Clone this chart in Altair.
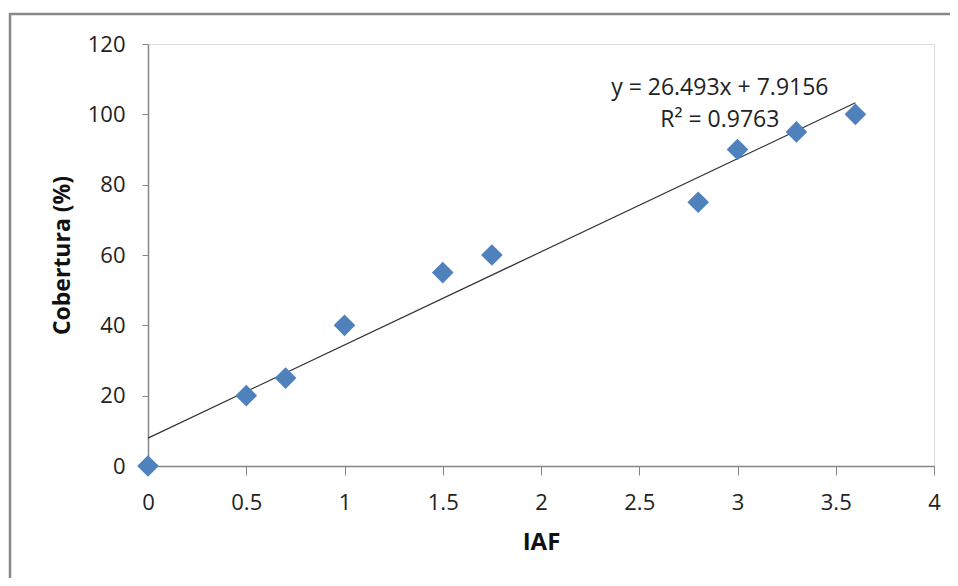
import altair as alt
import pandas as pd

iaf = [0, 0.5, 0.7, 1.0, 1.5, 1.75, 2.8, 3.0, 3.3, 3.6]
cobertura = [0, 20, 25, 40, 55, 60, 75, 90, 95, 100]

eq_text = ["y = 26.493x + 7.9156", "R² = 0.9763"]
eq_x = [2.91, 2.91]
eq_y = [107.5, 98.4]

df = pd.DataFrame({"IAF": iaf, "Cobertura": cobertura})
df_eq = pd.DataFrame({"t": eq_text, "x": eq_x, "y": eq_y})

W, H = 786, 422
FONT = "Open Sans"
GRAY = "#868686"

xscale = alt.Scale(domain=[0, 4], nice=False, zero=True)
yscale = alt.Scale(domain=[0, 120], nice=False)

xaxis = alt.Axis(values=[0, 0.5, 1, 1.5, 2, 2.5, 3, 3.5, 4], format="~g", grid=False,
                 domainColor=GRAY, tickColor=GRAY, tickSize=9, domainWidth=1.5,
                 labelFont=FONT, labelFontSize=22, labelColor="#222", labelPadding=17,
                 labelFlush=False, labelOverlap=False,
                 title="IAF", titleFont=FONT, titleFontSize=24, titleFontWeight="bold",
                 titleColor="#111", titleX=W / 2, titleY=76, titleBaseline="middle",
                 titleAlign="center")
yaxis = alt.Axis(values=[0, 20, 40, 60, 80, 100, 120], grid=False,
                 domainColor=GRAY, tickColor=GRAY, tickSize=6, domainWidth=1.5,
                 labelFont=FONT, labelFontSize=22, labelColor="#222", labelPadding=17,
                 labelFlush=False, labelOverlap=False,
                 title="Cobertura (%)", titleFont=FONT, titleFontSize=23,
                 titleFontWeight="bold", titleColor="#111", titleX=-86, titleY=H / 2,
                 titleAngle=-90, titleBaseline="middle", titleAlign="center")

base = alt.Chart(df)

border = alt.Chart(pd.DataFrame({"a": [0]})).mark_rect(
    fill=None, stroke="#888888", strokeWidth=2.5
).encode(x=alt.value(-138), x2=alt.value(W + 200), y=alt.value(-30), y2=alt.value(H + 250))

trend = base.transform_regression("IAF", "Cobertura", extent=[0, 3.6]).mark_line(
    color="#333333", strokeWidth=1.2
).encode(x=alt.X("IAF:Q", scale=xscale, axis=xaxis),
         y=alt.Y("Cobertura:Q", scale=yscale, axis=yaxis))

points = base.mark_point(shape="diamond", filled=True, size=470, color="#4F81BD",
                         opacity=1).encode(
    x=alt.X("IAF:Q", scale=xscale, axis=xaxis),
    y=alt.Y("Cobertura:Q", scale=yscale, axis=yaxis))

eq = alt.Chart(df_eq).mark_text(font=FONT, fontSize=23, color="#222",
                                align="center", baseline="middle").encode(
    x=alt.X("x:Q", scale=xscale), y=alt.Y("y:Q", scale=yscale), text="t:N")

chart = alt.layer(border, trend, points, eq).properties(
    width=W, height=H,
    autosize=alt.AutoSizeParams(type="none"),
    padding={"left": 140, "top": 36, "right": 16, "bottom": 112},
).configure_view(stroke=None).configure(background="white")

chart.save("out.html", embed_options={"renderer": "svg", "actions": False})
